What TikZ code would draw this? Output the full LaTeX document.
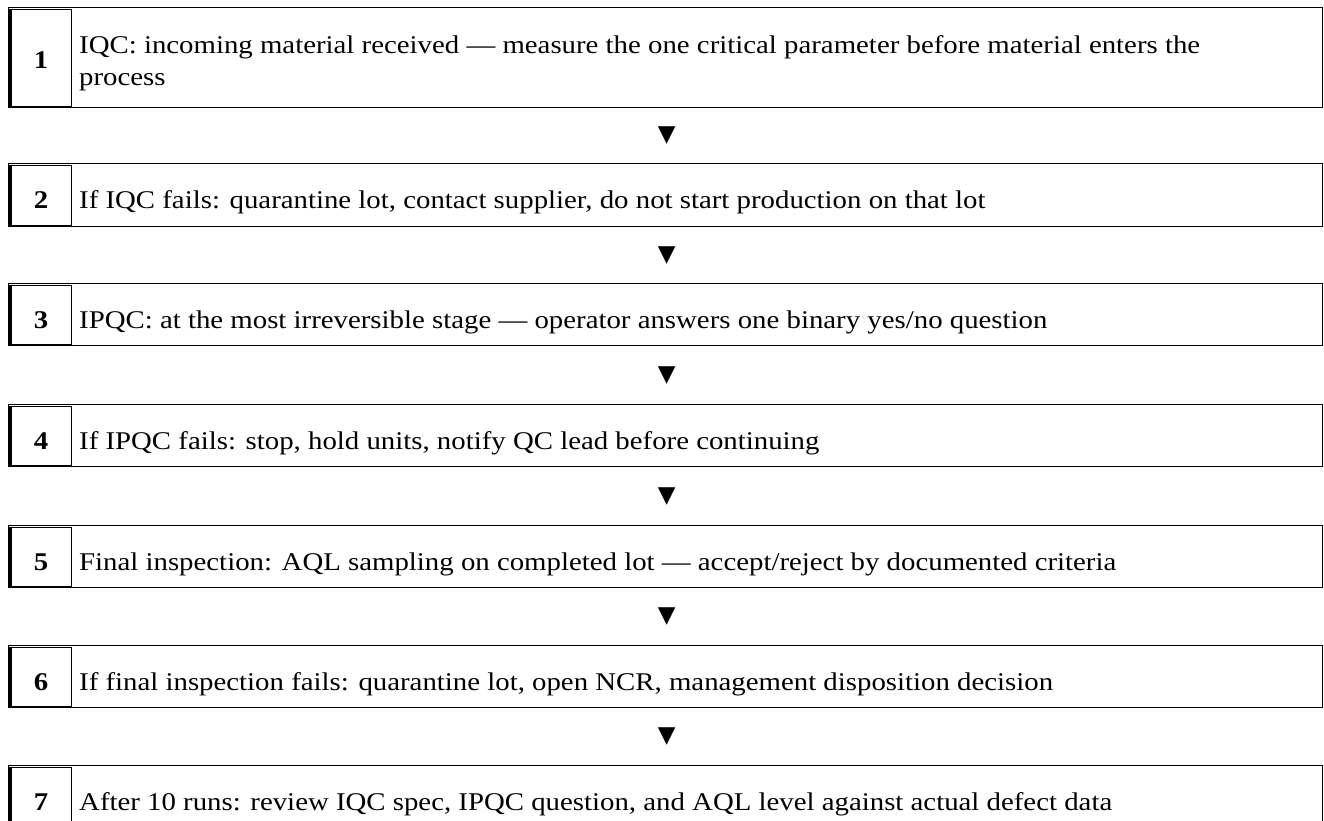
\documentclass[tikz,border=0pt]{standalone}
\usepackage{fontspec}
\setmainfont{Liberation Serif}[FakeStretch=1.13]
\newfontfamily\symfont{DejaVu Sans}
\usetikzlibrary{calc}
\tikzset{
  outerbox/.style={draw=black, line width=1.4pt, minimum width=1314pt, inner sep=0pt, anchor=north west},
  numcell/.style={draw=black, line width=1pt, minimum width=61pt, inner sep=0pt, anchor=north west},
  numtext/.style={anchor=base, inner sep=0pt, font=\fontsize{25.5}{32}\selectfont\bfseries},
  steptext/.style={anchor=base west, inner sep=0pt, align=left, font=\fontsize{25.5}{32}\selectfont},
  tri/.style={inner sep=0pt, font=\fontsize{23}{23}\selectfont\symfont}
}
\begin{document}
\begin{tikzpicture}[x=1pt,y=-1pt]
\useasboundingbox (0,0) rectangle (1324,820);
\clip (0,0) rectangle (1324,820);
\foreach \i/\t/\h/\nb/\tb/\s in {
  1/7/100/61/78/{IQC: incoming material received — measure the one critical parameter before material enters the\\process},
  2/163/63/45/45/{If IQC fails: quarantine lot, contact supplier, do not start production on that lot},
  3/283/62/45/45/{IPQC: at the most irreversible stage — operator answers one binary yes/no question},
  4/404/62/45/45/{If IPQC fails: stop, hold units, notify QC lead before continuing},
  5/525/62/45/45/{Final inspection: AQL sampling on completed lot — accept/reject by documented criteria},
  6/645/62/45/45/{If final inspection fails: quarantine lot, open NCR, management disposition decision},
  7/765/62/45/45/{After 10 runs: review IQC spec, IPQC question, and AQL level against actual defect data}}{
  \node[outerbox, minimum height=\h pt] (b\i) at (8,\t) {};
  \node[numcell, minimum height=\h pt-3pt] (n\i) at (10,\t+1.5) {};
  \draw[line width=3pt] (n\i.north west) -- (n\i.south west);
  \node[numtext] (m\i) at (41,\t+\nb) {\i};
  \node[steptext] (t\i) at (79,\t+\tb) {\s};
}
\foreach \a/\b in {1/2,2/3,3/4,4/5,5/6,6/7}{
  \node[tri] (a\a) at ($(b\a.south)!0.5!(b\b.north)+(1,0)$) {▼};
}
\end{tikzpicture}
\end{document}
